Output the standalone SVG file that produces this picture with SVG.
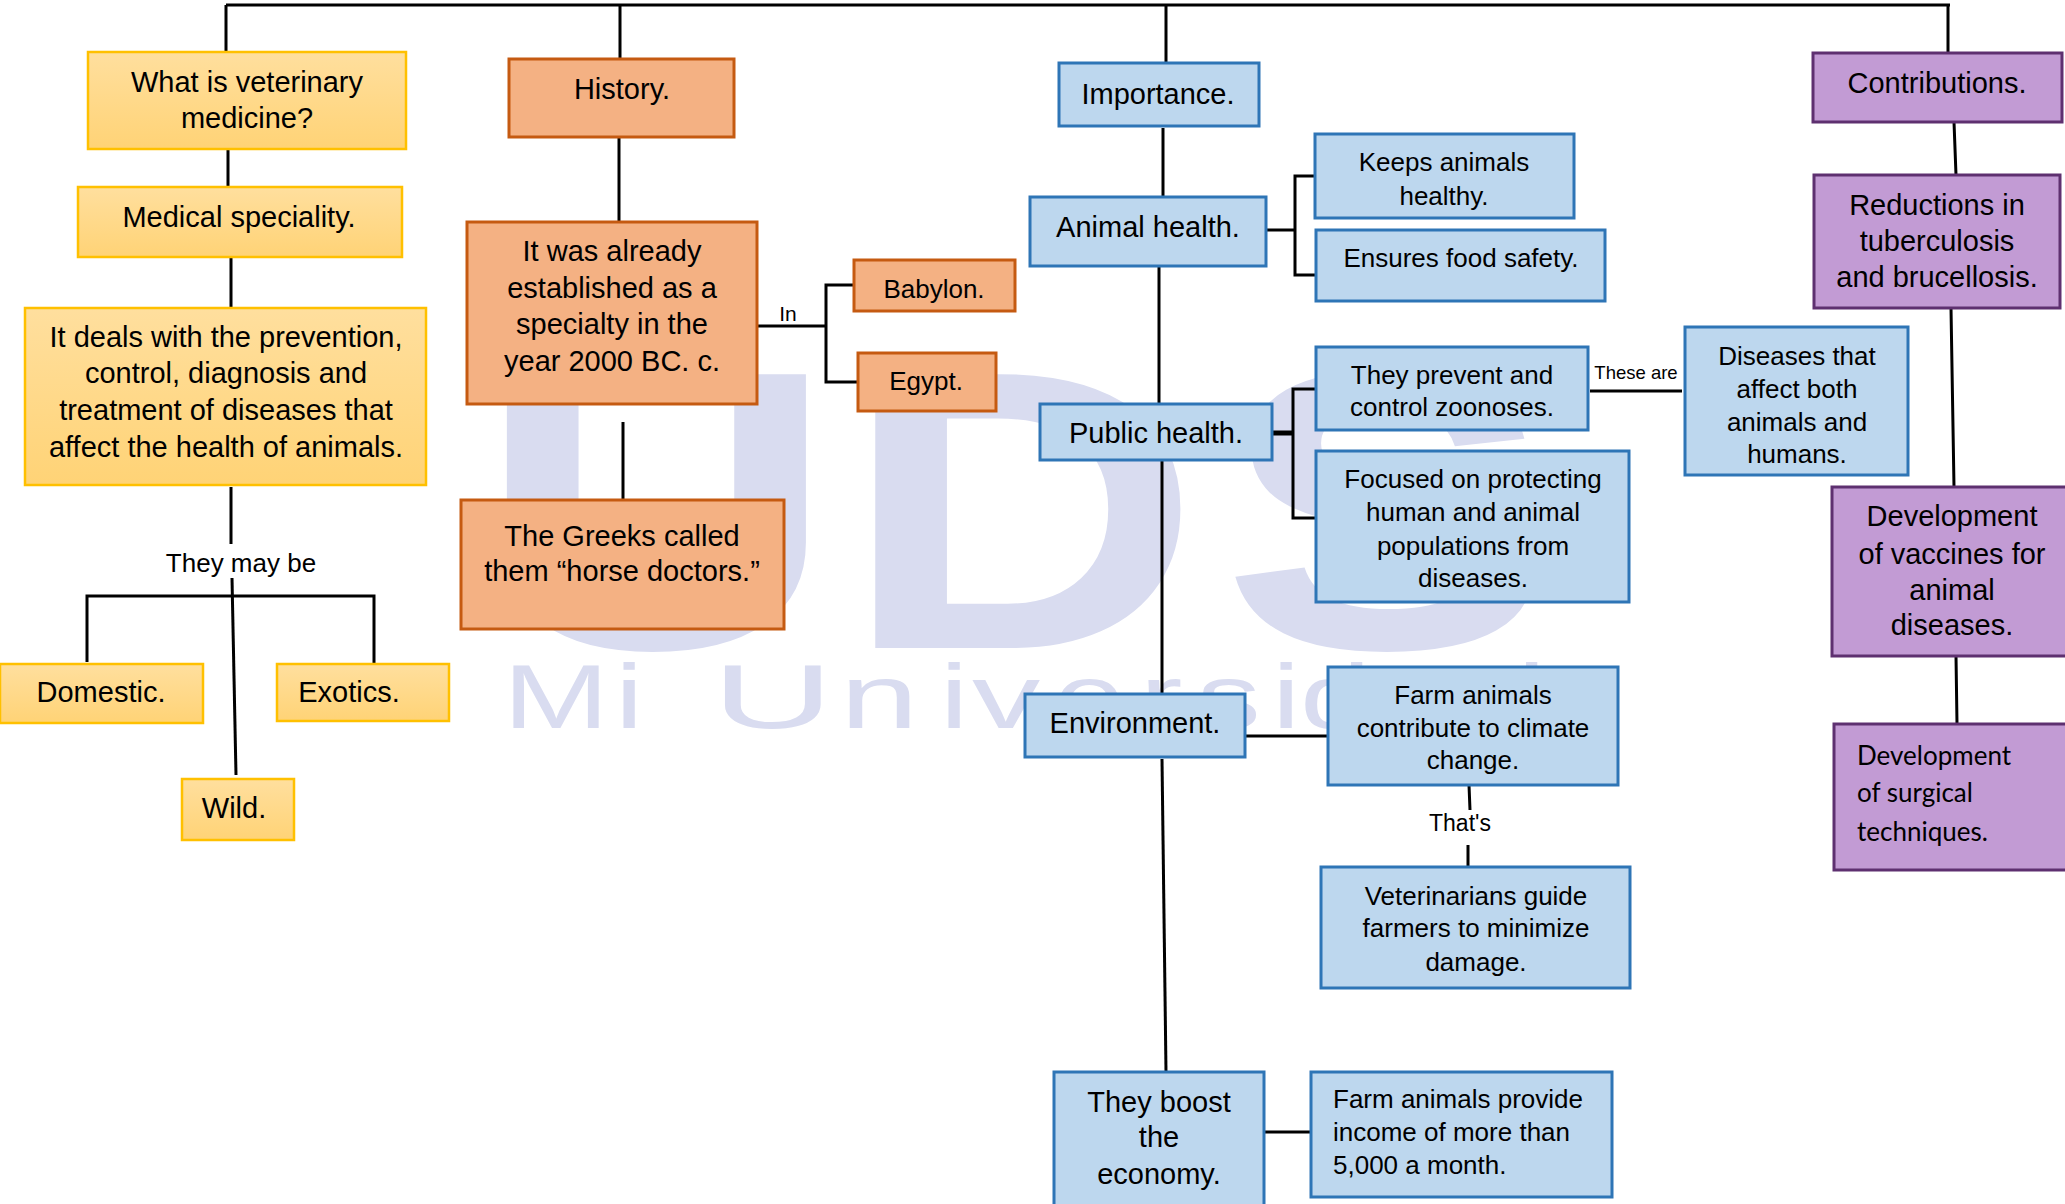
<svg xmlns="http://www.w3.org/2000/svg" width="2065" height="1204" viewBox="0 0 2065 1204">
<defs>
<linearGradient id="yg" x1="0" y1="0" x2="0" y2="1">
<stop offset="0" stop-color="#ffdf9e"/>
<stop offset="1" stop-color="#ffd376"/>
</linearGradient>
</defs>
<style>
.y{fill:url(#yg);stroke:#ffc000;stroke-width:2.5}
.o{fill:#f4b183;stroke:#c55a11;stroke-width:3}
.b{fill:#bdd7ee;stroke:#2e75b6;stroke-width:3}
.p{fill:#c29bd4;stroke:#5e3070;stroke-width:3}
text{font-family:"Liberation Sans",Arial,sans-serif;fill:#000}
.t29{font-size:29px;text-anchor:middle}
.t26{font-size:26px;text-anchor:middle}
.l26{font-size:26px}
.c{font-family:Lato,"Open Sans",sans-serif;font-size:26px}
.lab{text-anchor:middle}
#watermark text{fill:#d9dcf0}
.big{font-size:398px;font-weight:bold}
.sm{font-size:91px}
#connectors path{fill:none;stroke:#000;stroke-width:3}
</style>
<rect width="2065" height="1204" fill="#fff"/>
<g id="watermark">
<text class="big" transform="translate(477,648) scale(1.25,1)">U</text>
<text class="big" transform="translate(842,648) scale(1.25,1)">D</text>
<text class="big" transform="translate(1221,648) scale(1.25,1)">S</text>
<text class="sm" transform="translate(503,728) scale(1.4,1)">M</text>
<text class="sm" transform="translate(615,728) scale(1.4,1)">i</text>
<text class="sm" transform="translate(712,728) scale(1.85,1)">U</text>
<text class="sm" transform="translate(840,728) scale(1.55,1)">n</text>
<text class="sm" transform="translate(940,728) scale(1.4,1)">i</text>
<text class="sm" transform="translate(972,728) scale(1.5,1)">v</text>
<text class="sm" transform="translate(1054,728) scale(1.4,1)">e</text>
<text class="sm" transform="translate(1140,728) scale(1.4,1)">r</text>
<text class="sm" transform="translate(1197,728) scale(1.4,1)">s</text>
<text class="sm" transform="translate(1272,728) scale(1.4,1)">i</text>
<text class="sm" transform="translate(1300,728) scale(1.4,1)">d</text>
<text class="sm" transform="translate(1390,728) scale(1.4,1)">a</text>
<text class="sm" transform="translate(1475,728) scale(1.4,1)">d</text>
</g>
<g id="connectors">
<path d="M226,5 H1950"/>
<path d="M226,5 V52 M620,5 V59 M1166,5 V63 M1948,5 V53"/>
<path d="M228,149 V187 M231,257 V308 M231,487 V544"/>
<path d="M232,578 L236,775"/>
<path d="M87,662 V596 H374 V663"/>
<path d="M619,137 V221"/>
<path d="M757,326 H826 M854,285 H826 V382 H858"/>
<path d="M623,422 V500"/>
<path d="M1163,128 V197"/>
<path d="M1266,230 H1295 M1315,176 H1295 V275 H1315"/>
<path d="M1159,266 V404"/>
<path d="M1272,433 H1293" style="stroke-width:5"/>
<path d="M1316,389 H1293 V518 H1316"/>
<path d="M1590,391 H1682"/>
<path d="M1162,460 V694"/>
<path d="M1245,736 H1328"/>
<path d="M1469,785 L1470,810 M1468,845 V867"/>
<path d="M1162,759 L1166,1072"/>
<path d="M1264,1132 H1311"/>
<path d="M1954,122 L1956,175 M1951,308 L1954,487 M1956,656 L1957,724"/>
</g>
<g id="labels">
<text class="lab" font-size="26" x="241" y="572">They may be</text>
<text class="lab" font-size="21" x="788" y="321">In</text>
<text class="lab" font-size="18.5" x="1636" y="379">These are</text>
<text class="lab" font-size="23" x="1460" y="831">That's</text>
</g>
<g id="n-what"><rect class="y" x="88" y="52" width="318" height="97"/><text class="t29" x="247"><tspan x="247" y="92">What is veterinary</tspan><tspan x="247" y="128">medicine?</tspan></text></g>
<g id="n-spec"><rect class="y" x="78" y="187" width="324" height="70"/><text class="t29" x="239" y="227">Medical speciality.</text></g>
<g id="n-deals"><rect class="y" x="25" y="308" width="401" height="177"/><text class="t29"><tspan x="226" y="347">It deals with the prevention,</tspan><tspan x="226" y="383">control, diagnosis and</tspan><tspan x="226" y="420">treatment of diseases that</tspan><tspan x="226" y="457">affect the health of animals.</tspan></text></g>
<g id="n-dom"><rect class="y" x="0" y="664" width="203" height="59"/><text class="t29" x="101" y="702">Domestic.</text></g>
<g id="n-exo"><rect class="y" x="277" y="664" width="172" height="57"/><text class="t29" x="349" y="702">Exotics.</text></g>
<g id="n-wild"><rect class="y" x="182" y="779" width="112" height="61"/><text class="t29" font-size="28" x="234" y="818">Wild.</text></g>
<g id="n-hist"><rect class="o" x="509" y="59" width="225" height="78"/><text class="t29" x="622" y="99">History.</text></g>
<g id="n-est"><rect class="o" x="467" y="222" width="290" height="182"/><text class="t29"><tspan x="612" y="261">It was already</tspan><tspan x="612" y="298">established as a</tspan><tspan x="612" y="334">specialty in the</tspan><tspan x="612" y="371">year 2000 BC. c.</tspan></text></g>
<g id="n-bab"><rect class="o" x="854" y="260" width="161" height="51"/><text class="t26" x="934" y="298">Babylon.</text></g>
<g id="n-egy"><rect class="o" x="858" y="353" width="138" height="58"/><text class="t26" x="926" y="390">Egypt.</text></g>
<g id="n-greeks"><rect class="o" x="461" y="500" width="323" height="129"/><text class="t29"><tspan x="622" y="546">The Greeks called</tspan><tspan x="622" y="581">them “horse doctors.”</tspan></text></g>
<g id="n-imp"><rect class="b" x="1059" y="63" width="200" height="63"/><text class="t29" x="1158" y="104">Importance.</text></g>
<g id="n-animal"><rect class="b" x="1030" y="197" width="236" height="69"/><text class="t29" x="1148" y="237">Animal health.</text></g>
<g id="n-keeps"><rect class="b" x="1315" y="134" width="259" height="84"/><text class="t26"><tspan x="1444" y="171">Keeps animals</tspan><tspan x="1444" y="205">healthy.</tspan></text></g>
<g id="n-food"><rect class="b" x="1316" y="230" width="289" height="71"/><text class="t26" x="1461" y="267">Ensures food safety.</text></g>
<g id="n-public"><rect class="b" x="1040" y="404" width="232" height="56"/><text class="t29" x="1156" y="443">Public health.</text></g>
<g id="n-prevent"><rect class="b" x="1316" y="347" width="272" height="83"/><text class="t26"><tspan x="1452" y="384">They prevent and</tspan><tspan x="1452" y="416">control zoonoses.</tspan></text></g>
<g id="n-focused"><rect class="b" x="1316" y="451" width="313" height="151"/><text class="t26"><tspan x="1473" y="488">Focused on protecting</tspan><tspan x="1473" y="521">human and animal</tspan><tspan x="1473" y="555">populations from</tspan><tspan x="1473" y="587">diseases.</tspan></text></g>
<g id="n-zoon"><rect class="b" x="1685" y="327" width="223" height="148"/><text class="t26"><tspan x="1797" y="365">Diseases that</tspan><tspan x="1797" y="398">affect both</tspan><tspan x="1797" y="431">animals and</tspan><tspan x="1797" y="463">humans.</tspan></text></g>
<g id="n-env"><rect class="b" x="1025" y="694" width="220" height="63"/><text class="t29" x="1135" y="733">Environment.</text></g>
<g id="n-climate"><rect class="b" x="1328" y="667" width="290" height="118"/><text class="t26"><tspan x="1473" y="704">Farm animals</tspan><tspan x="1473" y="737">contribute to climate</tspan><tspan x="1473" y="769">change.</tspan></text></g>
<g id="n-guide"><rect class="b" x="1321" y="867" width="309" height="121"/><text class="t26"><tspan x="1476" y="905">Veterinarians guide</tspan><tspan x="1476" y="937">farmers to minimize</tspan><tspan x="1476" y="971">damage.</tspan></text></g>
<g id="n-economy"><rect class="b" x="1054" y="1072" width="210" height="145"/><text class="t29"><tspan x="1159" y="1112">They boost</tspan><tspan x="1159" y="1147">the</tspan><tspan x="1159" y="1184">economy.</tspan></text></g>
<g id="n-income"><rect class="b" x="1311" y="1072" width="301" height="125"/><text class="l26"><tspan x="1333" y="1108">Farm animals provide</tspan><tspan x="1333" y="1141">income of more than</tspan><tspan x="1333" y="1174">5,000 a month.</tspan></text></g>
<g id="n-contrib"><rect class="p" x="1813" y="53" width="249" height="69"/><text class="t29" x="1937" y="93">Contributions.</text></g>
<g id="n-reduct"><rect class="p" x="1814" y="175" width="246" height="133"/><text class="t29"><tspan x="1937" y="215">Reductions in</tspan><tspan x="1937" y="251">tuberculosis</tspan><tspan x="1937" y="287">and brucellosis.</tspan></text></g>
<g id="n-vacc"><rect class="p" x="1832" y="487" width="245" height="169"/><text class="t29"><tspan x="1952" y="526">Development</tspan><tspan x="1952" y="564">of vaccines for</tspan><tspan x="1952" y="600">animal</tspan><tspan x="1952" y="635">diseases.</tspan></text></g>
<g id="n-surg"><rect class="p" x="1834" y="724" width="243" height="146"/><text class="c"><tspan x="1857" y="765">Development</tspan><tspan x="1857" y="802">of surgical</tspan><tspan x="1857" y="841">techniques.</tspan></text></g>
</svg>
